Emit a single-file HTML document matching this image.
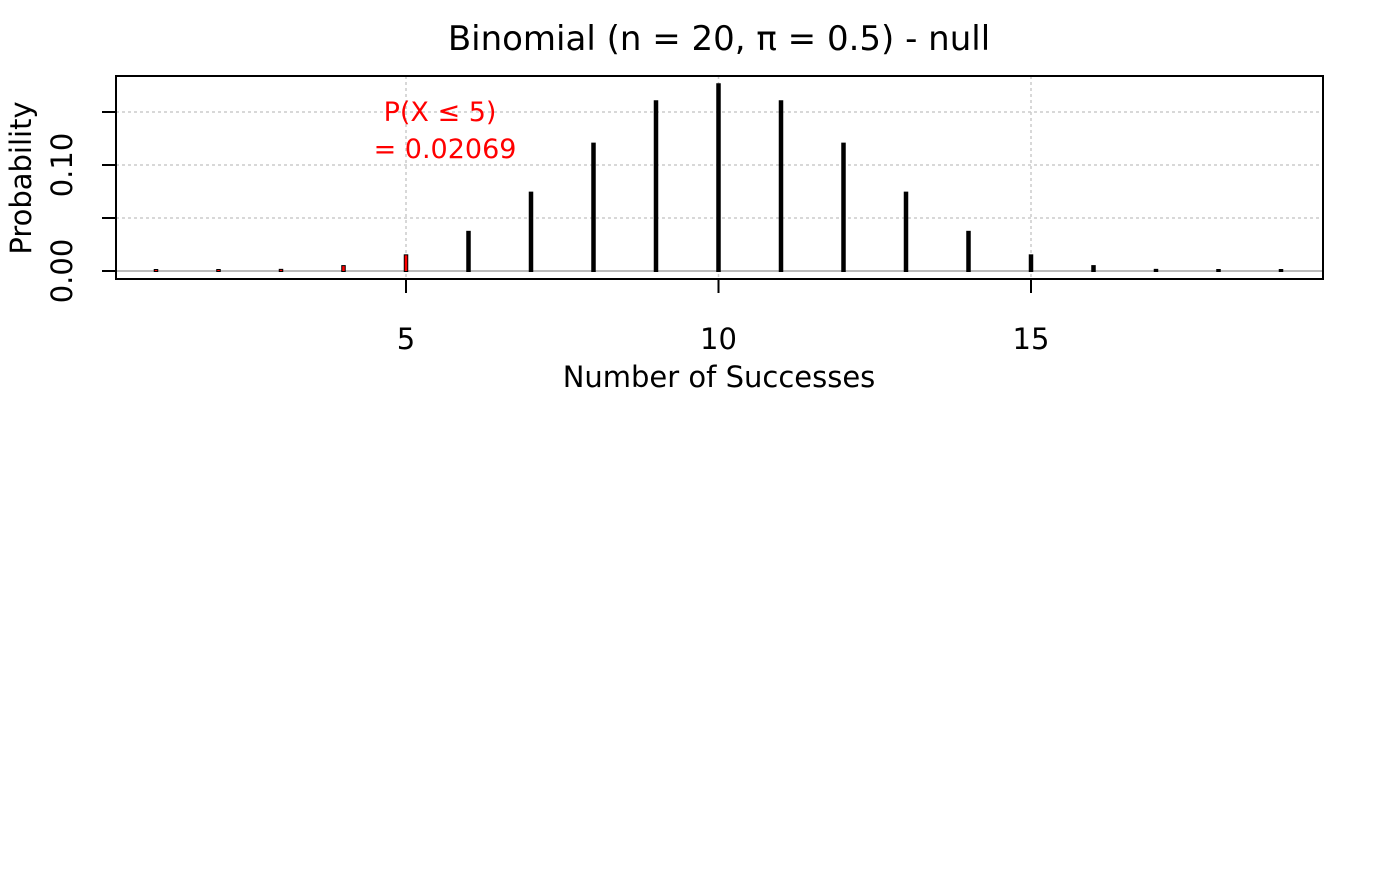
<!DOCTYPE html>
<html><head><meta charset="utf-8"><style>
body{margin:0;background:#fff}
svg text{font-family:"DejaVu Sans","Liberation Sans",sans-serif}
</style></head><body>
<svg width="1400" height="866" xmlns="http://www.w3.org/2000/svg">
<text x="719" y="50" font-size="34" text-anchor="middle">Binomial (n = 20, π = 0.5) - null</text>
<g id="grid"></g>
<line x1="116" x2="1323" y1="271" y2="271" stroke="#bbb" stroke-width="2"/>
<g id="bars"></g>
<rect x="116" y="76" width="1207" height="203" fill="none" stroke="#000" stroke-width="2"/>
<g id="axes"></g>
<text x="440" y="121" font-size="27" fill="red" text-anchor="middle">P(X ≤ 5)</text>
<text x="445" y="158" font-size="27" fill="red" text-anchor="middle">= 0.02069</text>
<text x="719" y="387" font-size="29" text-anchor="middle">Number of Successes</text>
<text transform="translate(31,178) rotate(-90)" font-size="29" text-anchor="middle">Probability</text>
</svg>
<script>
const ks=[1,2,3,4,5,6,7,8,9,10,11,12,13,14,15,16,17,18,19];
const probs=[0.0000191,0.000181,0.001087,0.004621,0.014786,0.036964,0.073929,0.120134,0.160179,0.176197,0.160179,0.120134,0.073929,0.036964,0.014786,0.004621,0.001087,0.000181,0.0000191];
const xTicks=[5,10,15];
const yTicks=[0,0.05,0.10,0.15];
const yLabels=["0.00","","0.10",""];
const cutoff=5;
const NS="http://www.w3.org/2000/svg";
const X=v=>93.5+62.5*v, Y=v=>271-1060*v;
function mk(t,a,p){const e=document.createElementNS(NS,t);for(const k in a)e.setAttribute(k,a[k]);p.appendChild(e);return e;}
const grid=document.getElementById('grid'),bars=document.getElementById('bars'),axes=document.getElementById('axes');
xTicks.forEach(t=>{const l=mk('line',{x1:X(t),x2:X(t),y1:76,y2:279,stroke:'#ccc','stroke-dasharray':'3,3','stroke-width':1.5},grid);


const tk=mk('line',{x1:X(t),x2:X(t),y1:279,y2:293,stroke:'#000','stroke-width':2},axes);


const tx=mk('text',{x:X(t),y:349,'font-size':29,'text-anchor':'middle'},axes);tx.textContent=t;

});
yTicks.forEach((t,i)=>{if(t>0){const l=mk('line',{x1:116,x2:1323,y1:Y(t),y2:Y(t),stroke:'#ccc','stroke-dasharray':'3,3','stroke-width':1.5},grid);

}
const tk=mk('line',{x1:102,x2:116,y1:Y(t),y2:Y(t),stroke:'#000','stroke-width':2},axes);


if(yLabels[i]){const tx=mk('text',{transform:`translate(72,${Y(t)}) rotate(-90)`,'font-size':29,'text-anchor':'middle'},axes);tx.textContent=yLabels[i];

}});
ks.forEach((k,i)=>{const y=Math.min(Y(probs[i]),270);
const b=mk('line',{x1:X(k),x2:X(k),y1:272,y2:y-1,stroke:'#000','stroke-width':4.5},bars);


if(k<=cutoff){const r=mk('line',{x1:X(k),x2:X(k),y1:271,y2:y,stroke:'red','stroke-width':2.5},bars);

}});
</script>
</body></html>
